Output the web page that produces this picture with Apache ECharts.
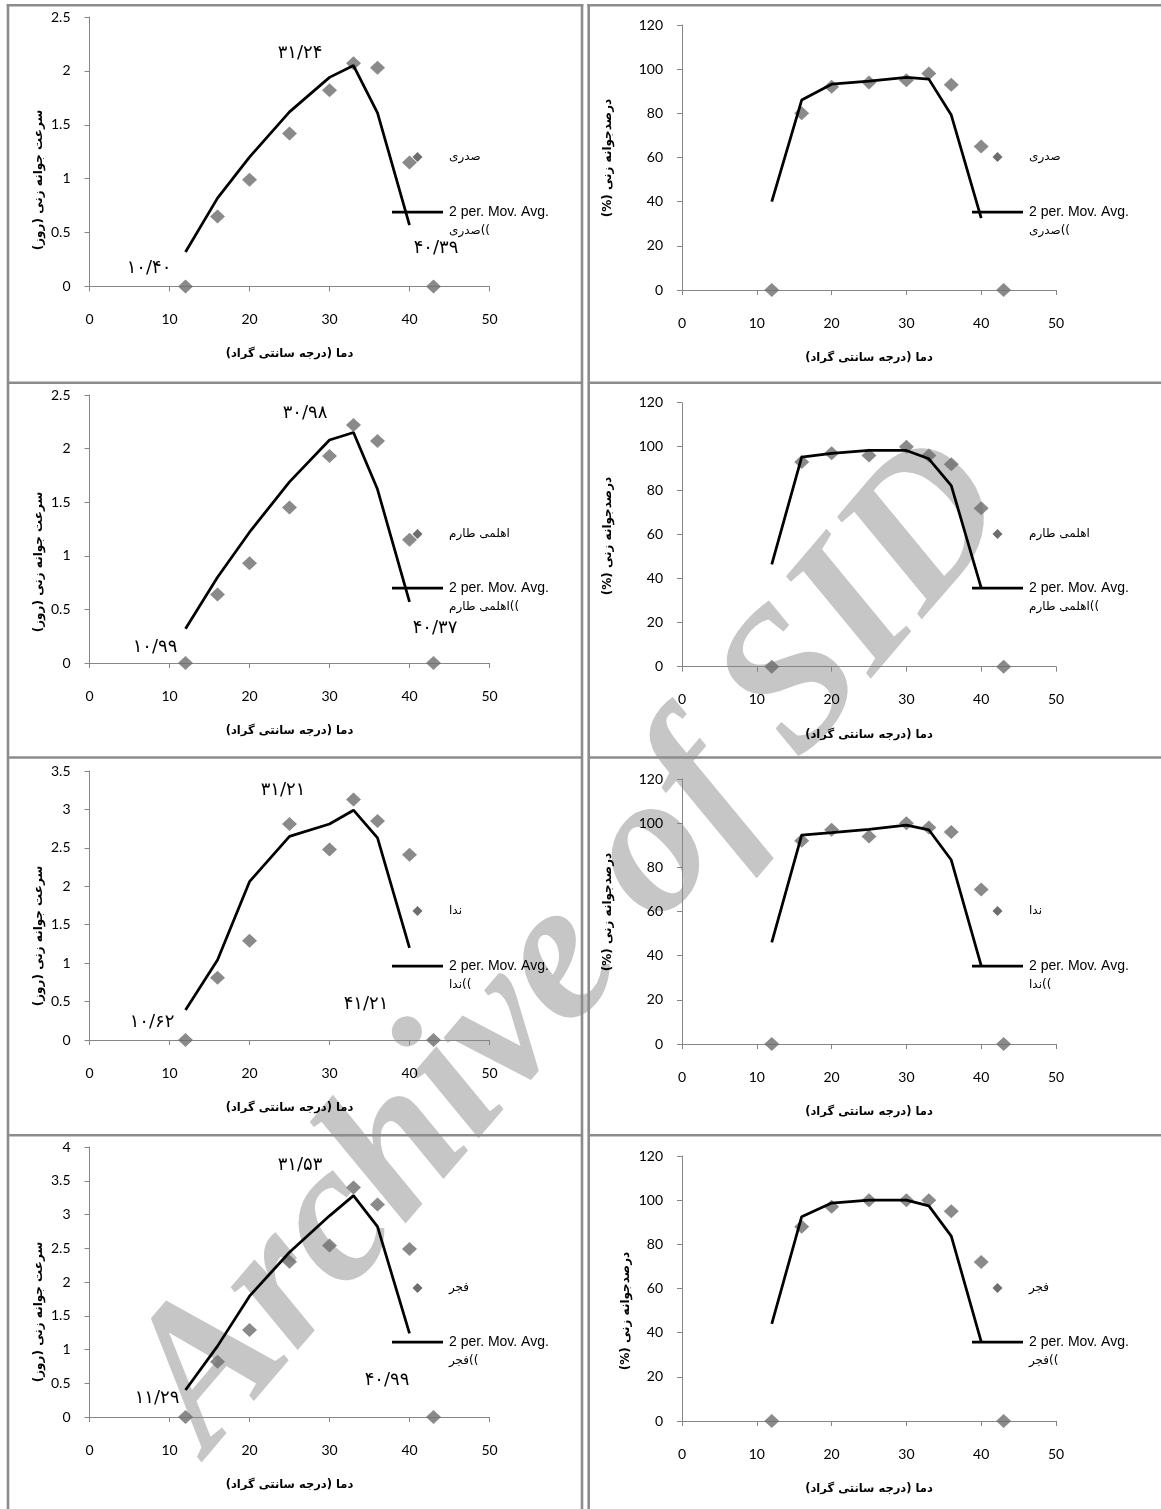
<!DOCTYPE html>
<html><head><meta charset="utf-8">
<script src="https://cdn.jsdelivr.net/npm/echarts@6/dist/echarts.min.js"></script>
<style>html,body{margin:0;padding:0;background:#fff}#c{width:1161px;height:1509px}</style>
</head><body><div id="c"></div>
<script>
// ---------------- data ----------------
const temps = [12, 16, 20, 25, 30, 33, 36, 40, 43];
const maTemps = [12, 16, 20, 25, 30, 33, 36, 40];
const cultivars = ['صدری', 'اهلمی طارم', 'ندا', 'فجر'];

const rateSadri   = [0, 0.65, 0.99, 1.42, 1.82, 2.07, 2.03, 1.15, 0];
const rateSadriMA = [0.32, 0.82, 1.20, 1.62, 1.94, 2.05, 1.61, 0.57];
const pctSadri    = [0, 80, 92, 94, 95, 98, 93, 65, 0];
const pctSadriMA  = [40, 86, 93.2, 94.6, 96.3, 95.5, 79.2, 32.5];

const rateTarom   = [0, 0.64, 0.93, 1.45, 1.93, 2.22, 2.07, 1.15, 0];
const rateTaromMA = [0.32, 0.80, 1.22, 1.69, 2.08, 2.15, 1.62, 0.57];
const pctTarom    = [0, 93, 97, 96, 100, 96, 92, 72, 0];
const pctTaromMA  = [46.5, 95.3, 97, 98.3, 98.3, 94.5, 82.3, 35.8];

const rateNeda    = [0, 0.81, 1.29, 2.81, 2.48, 3.13, 2.85, 2.41, 0];
const rateNedaMA  = [0.39, 1.04, 2.06, 2.65, 2.81, 2.99, 2.63, 1.20];
const pctNeda     = [0, 92, 97, 94, 100, 98, 96, 70, 0];
const pctNedaMA   = [46, 94.6, 95.7, 97.2, 99.1, 97, 83.3, 35.5];

const rateFajr    = [0, 0.82, 1.29, 2.30, 2.54, 3.40, 3.15, 2.49, 0];
const rateFajrMA  = [0.40, 1.05, 1.79, 2.44, 2.98, 3.28, 2.82, 1.24];
const pctFajr     = [0, 88, 97, 100, 100, 100, 95, 72, 0];
const pctFajrMA   = [44, 92.5, 98.7, 100, 100, 97.4, 83.7, 35.9];

const rateAxisMax = [2.5, 2.5, 3.5, 4];
const pctAxisMax = 120;
const cardinalTemps = [
  ['۱۰/۴۰', '۳۱/۲۴', '۴۰/۳۹'],
  ['۱۰/۹۹', '۳۰/۹۸', '۴۰/۳۷'],
  ['۱۰/۶۲', '۳۱/۲۱', '۴۱/۲۱'],
  ['۱۱/۲۹', '۳۱/۵۳', '۴۰/۹۹']
];
const xTitle = 'دما (درجه سانتی گراد)';
const rateTitle = 'سرعت جوانه زنی (روز)';
const pctTitle = 'درصدجوانه زنی (%)';
const maLabel = '2 per. Mov. Avg.';
const watermark = 'Archive of SID';

// ---------------- layout ----------------
const rates = [rateSadri, rateTarom, rateNeda, rateFajr];
const ratesMA = [rateSadriMA, rateTaromMA, rateNedaMA, rateFajrMA];
const pcts = [pctSadri, pctTarom, pctNeda, pctFajr];
const pctsMA = [pctSadriMA, pctTaromMA, pctNedaMA, pctFajrMA];

const LEFT = {x: 89.5, w: 400, tops: [17, 395, 771, 1147], hs: [269.5, 268, 269, 270],
  titleX: 39, titleY: [180, 562, 936, 1312],
  legD: 417.5, legL0: 392, legL1: 443, legT: 449};
const RIGHT = {x: 682, w: 374, tops: [25, 402.7, 779, 1156], hs: [265, 264, 265, 265],
  titleX: [608, 608, 608, 626], titleY: [158, 536, 912, 1311],
  legD: 997.5, legL0: 972, legL1: 1023, legT: 1029};
const legY = [[157, 212], [534, 588], [911, 966], [1288, 1342]];
const annPos = [
  [[149, 268], [300, 53], [436, 248]],
  [[155, 647], [305, 413], [435, 628]],
  [[152, 1022], [283, 790], [366, 1004]],
  [[157, 1398], [300, 1165], [387, 1380]]
];
const RLM = '\u200F';
const AXC = '#868686';
const MARK = '#6d6d6d';
const PERS = '"DejaVu Sans", sans-serif';
const NUMF = 'Lato, "Open Sans", sans-serif';

const grid = [], xAxis = [], yAxis = [], series = [], graphic = [];

function addPanel(gi, g, max, interval, pts, ma, name) {
  grid.push({left: g.left, top: g.top, width: g.width, height: g.height});
  xAxis.push({
    type: 'value', gridIndex: gi, min: 0, max: 50, interval: 10,
    axisLine: {show: true, onZero: false, lineStyle: {color: AXC, width: 1}},
    axisTick: {show: true, length: 5, lineStyle: {color: AXC}},
    axisLabel: {margin: 26, color: '#000', fontFamily: NUMF, fontSize: 14},
    splitLine: {show: false},
    name: RLM + xTitle + RLM, nameLocation: 'middle', nameGap: 62,
    nameTextStyle: {color: '#000', fontFamily: PERS, fontWeight: 'bold', fontSize: 11.5}
  });
  yAxis.push({
    type: 'value', gridIndex: gi, min: 0, max: max, interval: interval,
    axisLine: {show: true, lineStyle: {color: AXC, width: 1}},
    axisTick: {show: true, length: 5, lineStyle: {color: AXC}},
    axisLabel: {margin: 19, color: '#000', fontFamily: NUMF, fontSize: 14},
    splitLine: {show: false}
  });
  series.push({
    type: 'scatter', name: name, xAxisIndex: gi, yAxisIndex: gi, z: 3, silent: true,
    symbol: 'diamond', symbolSize: [15, 14], itemStyle: {color: MARK},
    data: temps.map((t, i) => [t, pts[i]])
  });
  series.push({
    type: 'line', name: maLabel + ' ' + name, xAxisIndex: gi, yAxisIndex: gi, z: 4, silent: true,
    symbol: 'none', lineStyle: {color: '#000', width: 2.75},
    data: maTemps.map((t, i) => [t, ma[i]])
  });
}

function legend(dx, l0, l1, tx, y1, y2, name) {
  graphic.push({type: 'polygon', z: 10, silent: true,
    shape: {points: [[dx, y1 - 5], [dx + 5, y1], [dx, y1 + 5], [dx - 5, y1]]},
    style: {fill: MARK}});
  graphic.push({type: 'text', z: 10, silent: true, x: tx, y: y1,
    style: {text: name, font: '12px ' + PERS, fill: '#000', textAlign: 'left', textVerticalAlign: 'middle'}});
  graphic.push({type: 'line', z: 10, silent: true, shape: {x1: l0, y1: y2, x2: l1, y2: y2},
    style: {stroke: '#000', lineWidth: 2.75}});
  graphic.push({type: 'text', z: 10, silent: true, x: tx, y: y2,
    style: {text: maLabel, font: '14px "Liberation Sans", Arial, sans-serif', fill: '#000', textAlign: 'left', textVerticalAlign: 'middle'}});
  // the second legend line shows the closing brackets on its left, as in the source
  graphic.push({type: 'text', z: 10, silent: true, x: tx, y: y2 + 18.5,
    style: {text: name + '((', font: '12px ' + PERS, fill: '#000', textAlign: 'left', textVerticalAlign: 'middle'}});
}

function yTitle(x, y, text) {
  graphic.push({type: 'text', z: 10, silent: true, x: x, y: y, rotation: Math.PI / 2,
    style: {text: RLM + text + RLM, font: 'bold 12px ' + PERS, fill: '#000', textAlign: 'center', textVerticalAlign: 'middle'}});
}

for (let r = 0; r < 4; r++) {
  addPanel(2 * r, {left: LEFT.x, top: LEFT.tops[r], width: LEFT.w, height: LEFT.hs[r]},
    rateAxisMax[r], 0.5, rates[r], ratesMA[r], cultivars[r]);
  addPanel(2 * r + 1, {left: RIGHT.x, top: RIGHT.tops[r], width: RIGHT.w, height: RIGHT.hs[r]},
    pctAxisMax, 20, pcts[r], pctsMA[r], cultivars[r]);
  legend(LEFT.legD, LEFT.legL0, LEFT.legL1, LEFT.legT, legY[r][0], legY[r][1], cultivars[r]);
  legend(RIGHT.legD, RIGHT.legL0, RIGHT.legL1, RIGHT.legT, legY[r][0], legY[r][1], cultivars[r]);
  yTitle(LEFT.titleX, LEFT.titleY[r], rateTitle);
  yTitle(RIGHT.titleX[r], RIGHT.titleY[r], pctTitle);
  cardinalTemps[r].forEach((txt, k) => {
    graphic.push({type: 'text', z: 10, silent: true, x: annPos[r][k][0], y: annPos[r][k][1],
      style: {text: txt, font: '18px ' + PERS, fill: '#000', textAlign: 'center', textVerticalAlign: 'middle'}});
  });
}

// panel borders
const BC = '#8c8c8c';
function bline(x1, y1, x2, y2) {
  graphic.push({type: 'line', z: 1, silent: true, shape: {x1, y1, x2, y2}, style: {stroke: BC, lineWidth: 2.6}});
}
bline(6.7, 5.3, 583.3, 5.3);
bline(587.3, 5.3, 1161, 5.3);
bline(8, 4, 8, 1509);
bline(582, 4, 582, 1509);
bline(588.7, 4, 588.7, 1509);
[382.8, 757.5, 1135.3].forEach(y => { bline(8, y, 582, y); bline(588.7, y, 1161, y); });

// watermark
graphic.push({type: 'text', z: -1, silent: true, x: 245, y: 1486, rotation: 49.5 * Math.PI / 180,
  style: {text: watermark, font: 'italic bold 200px "Liberation Serif", serif', fill: '#c6c6c6',
    textAlign: 'left', textVerticalAlign: 'bottom'}});

const chart = echarts.init(document.getElementById('c'), null, {renderer: 'canvas'});
chart.setOption({animation: false, backgroundColor: '#fff', grid, xAxis, yAxis, series, graphic});
</script></body></html>
